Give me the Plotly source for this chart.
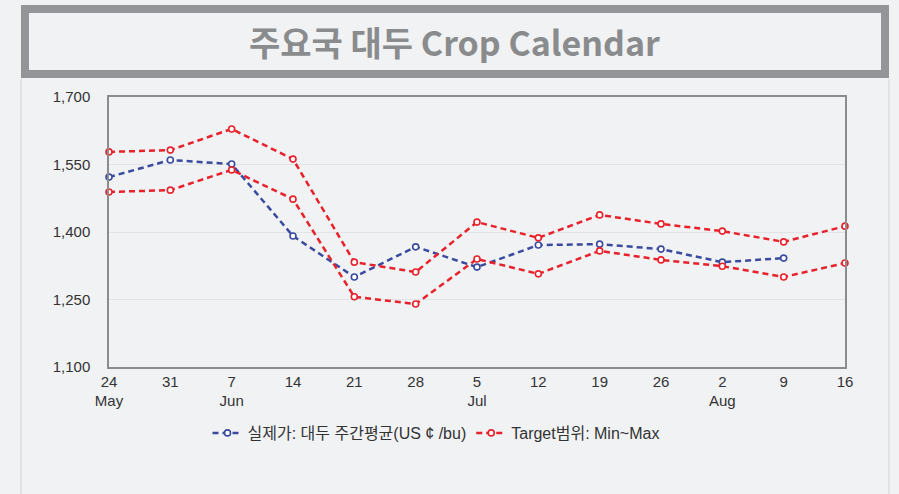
import plotly.graph_objects as go

# ---- data ----
weeks = ["24<br>May", "31", "7<br>Jun", "14", "21", "28", "5<br>Jul", "12", "19", "26", "2<br>Aug", "9", "16"]
actual = [1522, 1560, 1551, 1391, 1300, 1367, 1322, 1371, 1373, 1362, 1333, 1342, None]
target_max = [1578, 1582, 1629, 1562, 1333, 1311, 1422, 1387, 1438, 1418, 1402, 1378, 1413]
target_min = [1489, 1493, 1538, 1473, 1256, 1240, 1340, 1307, 1358, 1338, 1324, 1300, 1331]
y_ticks = [1100, 1250, 1400, 1550, 1700]

title_text = "주요국 대두 Crop Calendar"
name_actual = "실제가: 대두 주간평균(US ¢ /bu)"
name_target = "Target범위: Min~Max"

W, H = 899, 494
L, R, T, B = 109, 845, 97, 367
BG = "#f1f2f4"
BLUE = "#3a4b9f"
RED = "#e8212b"


def px_x(p):
    return (p - L) / (R - L)


def px_y(p):
    return (B - p) / (B - T)


x_idx = list(range(len(weeks)))

fig = go.Figure()

line_style = dict(width=2.5, dash="6px,4px")

fig.add_trace(go.Scatter(
    x=x_idx, y=actual, mode="lines+markers", name=name_actual,
    line=dict(color=BLUE, **line_style),
    marker=dict(symbol="circle", size=6, color="white", line=dict(width=1.6, color=BLUE)),
    cliponaxis=False, connectgaps=False,
))
fig.add_trace(go.Scatter(
    x=x_idx, y=target_max, mode="lines+markers", name=name_target,
    legendgroup="t",
    line=dict(color=RED, **line_style),
    marker=dict(symbol="circle", size=6, color="white", line=dict(width=1.6, color=RED)),
    cliponaxis=False,
))
fig.add_trace(go.Scatter(
    x=x_idx, y=target_min, mode="lines+markers", name=name_target,
    legendgroup="t", showlegend=False,
    line=dict(color=RED, **line_style),
    marker=dict(symbol="circle", size=6, color="white", line=dict(width=1.6, color=RED)),
    cliponaxis=False,
))

shapes = [
    # title box
    dict(type="rect", xref="paper", yref="paper",
         x0=px_x(25), x1=px_x(885), y0=px_y(9), y1=px_y(74),
         line=dict(color="#939598", width=8), fillcolor=BG, layer="below"),
    # panel side lines
    dict(type="line", xref="paper", yref="paper",
         x0=px_x(21), x1=px_x(21), y0=px_y(79), y1=px_y(494),
         line=dict(color="#e2e3e6", width=2)),
    dict(type="line", xref="paper", yref="paper",
         x0=px_x(889), x1=px_x(889), y0=px_y(79), y1=px_y(494),
         line=dict(color="#e2e3e6", width=2)),
]

fig.update_layout(
    width=W, height=H,
    margin=dict(l=L, r=W - R, t=T, b=H - B, pad=0),
    paper_bgcolor=BG, plot_bgcolor=BG,
    font=dict(family="Liberation Sans, Noto Sans CJK KR, sans-serif", size=15, color="#333333"),
    shapes=shapes,
    annotations=[dict(
        text=title_text, xref="paper", yref="paper",
        x=px_x(454.5), y=px_y(42), xanchor="center", yanchor="middle",
        showarrow=False,
        font=dict(family="Noto Sans CJK KR", size=34, color="#8a8b8d", weight="bold"),
    )],
    legend=dict(
        orientation="h", x=px_x(436), y=px_y(433), xanchor="center", yanchor="middle",
        bgcolor="rgba(0,0,0,0)", font=dict(size=16, color="#333333",
                                           family="Liberation Sans, Noto Sans CJK KR, sans-serif"),
        itemwidth=30, tracegroupgap=0,
    ),
    xaxis=dict(
        range=[0, len(weeks) - 1], tickmode="array", tickvals=x_idx, ticktext=weeks,
        showgrid=False, zeroline=False,
        showline=True, mirror=True, linecolor="#8c8c8c", linewidth=1.5,
        ticks="", ticklen=0, tickfont=dict(size=15, color="#333333"),
    ),
    yaxis=dict(
        range=[1100, 1700], tickmode="array", tickvals=y_ticks,
        ticktext=[f"{v:,}" for v in y_ticks],
        showgrid=True, gridcolor="#e2e3e6", gridwidth=1, zeroline=False,
        showline=True, mirror=True, linecolor="#8c8c8c", linewidth=1.5,
        ticks="", ticklen=0, ticklabelstandoff=14, tickfont=dict(size=15, color="#333333"),
    ),
    showlegend=True,
)

fig.write_html(
    "out.html",
    config={"displayModeBar": False},
    post_script="document.body.style.margin='0px';document.body.style.background='" + BG + "';",
)
